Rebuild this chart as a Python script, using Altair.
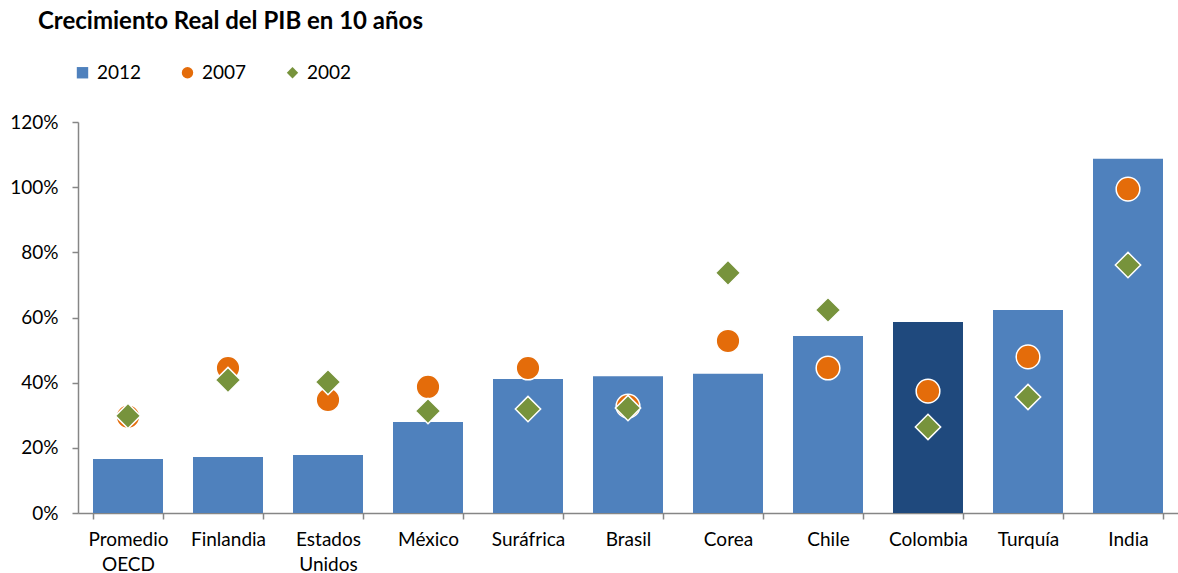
import altair as alt
import pandas as pd

paises = ["Promedio OECD", "Finlandia", "Estados Unidos", "México", "Suráfrica",
          "Brasil", "Corea", "Chile", "Colombia", "Turquía", "India"]
v2012 = [16.6, 17.2, 17.8, 27.9, 41.1, 42.0, 42.7, 54.3, 58.6, 62.3, 108.7]
v2007 = [29.6, 44.5, 34.7, 38.7, 44.5, 32.8, 52.8, 44.5, 37.4, 47.9, 99.4]
v2002 = [29.8, 40.8, 40.2, 31.3, 31.9, 32.2, 73.7, 62.3, 26.4, 35.6, 76.1]
series = ["2012", "2007", "2002"]

rows = []
for s, vals in zip(series, [v2012, v2007, v2002]):
    for i, (p, v) in enumerate(zip(paises, vals)):
        rows.append({"pais": p, "serie": s, "valor": v / 100.0, "orden": series.index(s)})
df = pd.DataFrame(rows)

FONT = "Lato"
blue = "#4F81BD"
dark = "#1F497D"
orange = "#E46C0A"
green = "#77933C"
FS = 19

color_scale = alt.Scale(domain=series, range=[blue, orange, green])
shape_scale = alt.Scale(domain=series, range=["square", "circle", "diamond"])
legend = alt.Legend(
    title=None, orient="none", legendX=-5, legendY=-59, direction="horizontal",
    columns=3, columnPadding=36, labelFontSize=FS, labelFont=FONT, labelColor="#000000",
    symbolSize=130, symbolStrokeWidth=0, labelOffset=5,
)

x = alt.X("pais:N", sort=paises, title=None,
          scale=alt.Scale(paddingInner=0.3, paddingOuter=0.15),
          axis=alt.Axis(labelAngle=0, tickBand="extent", labelExpr="split(datum.label, ' ')",
                        labelFontSize=FS, labelFont=FONT, labelColor="#000000",
                        labelPadding=11, labelLineHeight=25, tickSize=6,
                        domainColor="#868686", tickColor="#868686", domainWidth=1.5, tickWidth=1.5))
y = alt.Y("valor:Q", title=None,
          scale=alt.Scale(domain=[0, 1.2]),
          axis=alt.Axis(format=".0%", values=[0, 0.2, 0.4, 0.6, 0.8, 1.0, 1.2], grid=False,
                        labelFontSize=FS, labelFont=FONT, labelColor="#000000",
                        labelPadding=14, tickSize=6,
                        domainColor="#868686", tickColor="#868686", domainWidth=1.5, tickWidth=1.5))

bars = alt.Chart(df).transform_filter(alt.datum.serie == "2012").mark_bar().encode(
    x=x, y=y,
    color=alt.condition(alt.datum.pais == "Colombia", alt.value(dark),
                        alt.Color("serie:N", scale=color_scale, legend=legend)),
    shape=alt.Shape("serie:N", scale=shape_scale, legend=legend),
)

points = alt.Chart(df).transform_filter(alt.datum.serie != "2012").mark_point(
    filled=True, stroke="white", strokeWidth=1.5, opacity=1
).encode(
    x=x, y=y,
    color=alt.Color("serie:N", scale=color_scale, legend=legend),
    shape=alt.Shape("serie:N", scale=shape_scale, legend=legend),
    size=alt.condition(alt.datum.serie == "2007", alt.value(560), alt.value(640)),
    order=alt.Order("orden:Q"),
)

chart = alt.layer(bars, points).properties(
    width=1100, height=391,
    background="white",
    title=alt.TitleParams("Crecimiento Real del PIB en 10 años", anchor="start", frame="group",
                          dx=-40, fontSize=24, font=FONT, fontWeight="bold", color="#000000",
                          offset=29),
    autosize=alt.AutoSizeParams(type="none"),
    padding={"left": 78, "top": 122, "right": 0, "bottom": 60},
).configure_view(stroke="transparent", strokeWidth=0)

chart.save("out.html", embed_options={"renderer": "svg", "actions": False})
